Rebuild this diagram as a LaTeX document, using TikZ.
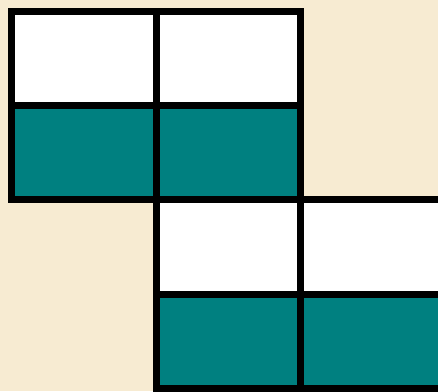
\documentclass[tikz,border=0pt]{standalone}
\usepackage{xcolor}
\usepackage{tikz}
\definecolor{paper}{RGB}{247,235,210}
\definecolor{tealfill}{RGB}{0,128,128}
\tikzset{
  whitecell/.style={draw=black,fill=white,line width=7pt},
  tealcell/.style={draw=black,fill=tealfill,line width=7pt}
}

\begin{document}
\begin{tikzpicture}[x=1pt,y=-1pt]
  \fill[paper] (0,0) rectangle (438,391);
  \useasboundingbox (0,0) rectangle (438,391);
  \clip (0,0) rectangle (438,391);

  % upper pair
  \draw[whitecell] (11.5,11.5) rectangle (156,105.5);
  \draw[whitecell] (156,11.5) rectangle (300,105.5);
  \draw[tealcell] (11.5,105.5) rectangle (156,199);
  \draw[tealcell] (156,105.5) rectangle (300,199);

  % lower pair, shifted right
  \draw[whitecell] (156,199) rectangle (300,294);
  \draw[whitecell] (300,199) rectangle (444.5,294);
  \draw[tealcell] (156,294) rectangle (300,388);
  \draw[tealcell] (300,294) rectangle (444.5,388);
\end{tikzpicture}
\end{document}
